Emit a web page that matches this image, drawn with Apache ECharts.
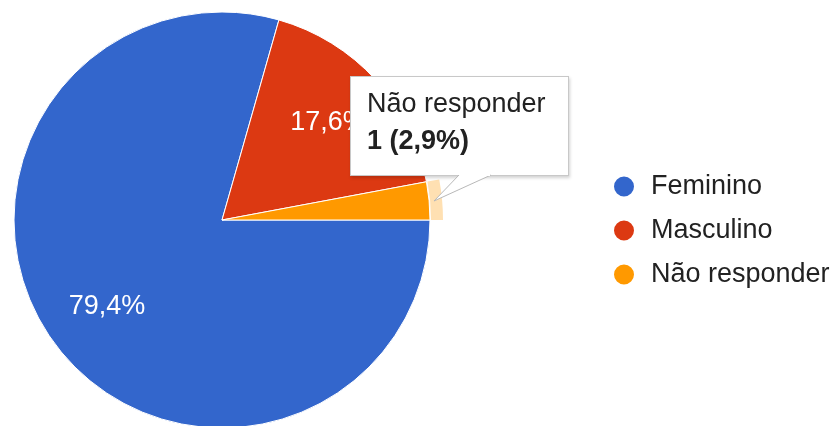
<!DOCTYPE html>
<html>
<head>
<meta charset="utf-8">
<style>
  html, body { margin: 0; padding: 0; background: #fff; }
  #chart { width: 840px; height: 426px; }
</style>
<script src="https://cdn.jsdelivr.net/npm/echarts@6/dist/echarts.min.js"></script>
</head>
<body>
<div id="chart"></div>
<script>
// Respostas por género
const categories = ['Feminino', 'Masculino', 'Não responder'];
const counts = [27, 6, 1];
const colors = ['#3366cc', '#dc3912', '#ff9900'];
const ringColors = ['rgba(0,0,0,0)', 'rgba(0,0,0,0)', '#ffe0b2'];
const highlighted = 2;

const FONT = "'Liberation Sans', Arial, sans-serif";
const FONT_SIZE = 27;
const total = counts.reduce((a, b) => a + b, 0);
const pct = v => (v / total * 100).toFixed(1).replace('.', ',') + '%';

const chart = echarts.init(document.getElementById('chart'), null, { renderer: 'canvas' });

const center = [222, 220];

chart.setOption({
  animation: false,
  tooltip: {
    trigger: 'item',
    triggerOn: 'none',
    alwaysShowContent: true,
    transitionDuration: 0,
    position: [350, 76],
    padding: 0,
    borderWidth: 0,
    backgroundColor: 'transparent',
    extraCssText: 'box-shadow:none;',
    formatter: p => {
      return '<div style="position:relative;background:#fff;border:1px solid #c8c8c8;' +
        'box-shadow:1px 2px 3px rgba(0,0,0,0.18);font-family:' + FONT + ';font-size:' + FONT_SIZE + 'px;line-height:37px;color:#222;' +
        'padding:8px 0 0 16px;box-sizing:border-box;width:219px;height:100px;white-space:nowrap;">' +
        p.name + '<br><b>' + p.value + ' (' + pct(p.value) + ')</b>' +
        '<svg width="70" height="40" style="position:absolute;left:74px;top:98px;overflow:visible">' +
        '<polygon points="34,0 9,26 66,0" fill="#fff"/>' +
        '<polyline points="34,0 9,26 66,0" fill="none" stroke="#b8b8b8" stroke-width="1"/>' +
        '<line x1="35" y1="0" x2="65" y2="0" stroke="#fff" stroke-width="2"/>' +
        '</svg></div>';
    }
  },
  legend: {
    orient: 'vertical',
    left: 607,
    top: 168,
    icon: 'circle',
    itemWidth: 22,
    itemHeight: 22,
    itemGap: 17,
    data: categories,
    textStyle: { fontFamily: FONT, fontSize: FONT_SIZE, color: '#222', padding: [0, 0, 0, 11] }
  },
  series: [
    {
      // main pie
      type: 'pie',
      center: center,
      radius: [0, 208],
      startAngle: 0,
      clockwise: true,
      emphasis: { disabled: true },
      label: { show: false },
      labelLine: { show: false },
      itemStyle: { borderColor: '#fff', borderWidth: 1 },
      data: categories.map((c, i) => ({ name: c, value: counts[i], itemStyle: { color: colors[i] } }))
    },
    {
      // hover ring around the highlighted slice
      type: 'pie',
      center: center,
      radius: [209, 221],
      startAngle: 0,
      clockwise: true,
      silent: true,
      legendHoverLink: false,
      tooltip: { show: false },
      label: { show: false },
      labelLine: { show: false },
      data: categories.map((c, i) => ({ name: c, value: counts[i], itemStyle: { color: ringColors[i] } }))
    },
    {
      // percentage labels placed further out than the default inside position
      type: 'pie',
      center: center,
      radius: [0, 282],
      startAngle: 0,
      clockwise: true,
      silent: true,
      legendHoverLink: false,
      tooltip: { show: false },
      z: 5,
      itemStyle: { color: 'rgba(0,0,0,0)' },
      label: {
        show: true,
        position: 'inside',
        fontFamily: FONT,
        fontSize: FONT_SIZE,
        color: '#fff',
        formatter: p => pct(p.value)
      },
      labelLine: { show: false },
      data: categories.map((c, i) => ({
        name: c, value: counts[i],
        itemStyle: { color: 'rgba(0,0,0,0)' },
        label: { show: counts[i] / total > 0.05 }
      }))
    }
  ]
});

chart.dispatchAction({ type: 'showTip', seriesIndex: 0, dataIndex: highlighted });
</script>
</body>
</html>
